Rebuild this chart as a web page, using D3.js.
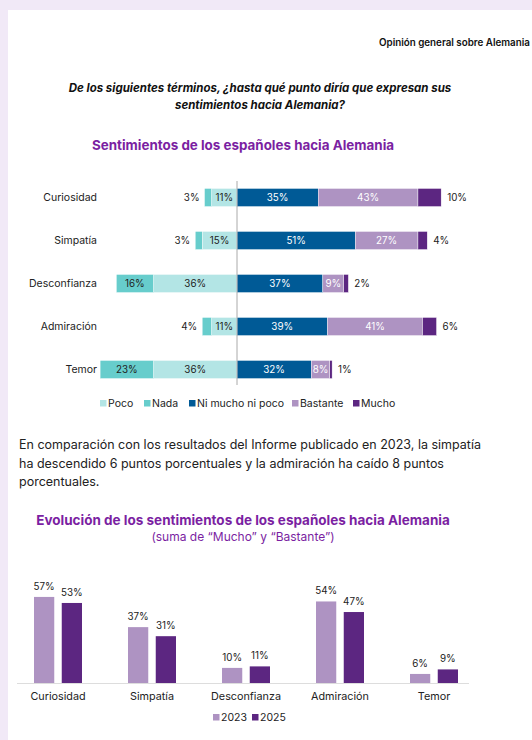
<!DOCTYPE html>
<html>
<head>
<meta charset="utf-8">
<script src="https://cdn.jsdelivr.net/npm/d3@7"></script>
<style>
  body { margin: 0; background: #f1e9f7; overflow: hidden; }
  svg { display: block; font-family: Inter, "Noto Sans", sans-serif; }
</style>
</head>
<body>
<svg id="chart" width="532" height="740"></svg>
<script>
// diverging chart data
const terms = ["Curiosidad", "Simpatía", "Desconfianza", "Admiración", "Temor"];
const nada = [3, 3, 16, 4, 23];
const poco = [11, 15, 36, 11, 36];
const niMucho = [35, 51, 37, 39, 32];
const bastante = [43, 27, 9, 41, 8];
const mucho = [10, 4, 2, 6, 1];

// evolution chart data
const years = ["2023", "2025"];
const evol2023 = [57, 37, 10, 54, 6];
const evol2025 = [53, 31, 11, 47, 9];

const colors = {
  poco: "#b3e5e5",
  nada: "#67cdcc",
  ni: "#005a96",
  bastante: "#ae93c2",
  mucho: "#5c2681"
};

const svg = d3.select("#chart");

// white page
svg.append("rect").attr("x", 8).attr("y", 10).attr("width", 524).attr("height", 730).attr("fill", "#fff");

// header
svg.append("text").attr("x", 379).attr("y", 46)
  .attr("font-size", 9.8).attr("font-weight", 600).attr("fill", "#111")
  .text("Opinión general sobre Alemania");

const q = svg.append("text").attr("text-anchor", "middle")
  .attr("font-size", 11.5).attr("font-weight", 700).attr("font-style", "italic").attr("fill", "#111");
q.append("tspan").attr("x", 260).attr("y", 92).text("De los siguientes términos, ¿hasta qué punto diría que expresan sus");
q.append("tspan").attr("x", 260).attr("y", 109).text("sentimientos hacia Alemania?");

svg.append("text").attr("x", 243).attr("y", 150).attr("text-anchor", "middle")
  .attr("font-size", 13.4).attr("font-weight", 700).attr("fill", "#7b1fa2")
  .text("Sentimientos de los españoles hacia Alemania");

// ---- diverging bars ----
const x0 = 237;
const xs = d3.scaleLinear().domain([0, 100]).range([0, 232]);
const ys = d3.scaleBand().domain(terms).range([176, 391]).paddingInner(0.58).paddingOuter(0.29);

const g1 = svg.append("g");

terms.forEach((t, i) => {
  const y = ys(t), h = ys.bandwidth(), cy = y + h / 2;
  const segs = [
    {key: "poco", v: poco[i], x: x0 - xs(poco[i])},
    {key: "nada", v: nada[i], x: x0 - xs(poco[i]) - xs(nada[i])},
    {key: "ni", v: niMucho[i], x: x0},
    {key: "bastante", v: bastante[i], x: x0 + xs(niMucho[i])},
    {key: "mucho", v: mucho[i], x: x0 + xs(niMucho[i]) + xs(bastante[i])}
  ];
  segs.forEach(s => {
    g1.append("rect").attr("x", s.x).attr("y", y).attr("width", xs(s.v)).attr("height", h)
      .attr("fill", colors[s.key]).attr("stroke", "#fff").attr("stroke-width", 0.4);
    const w = xs(s.v);
    let lx = s.x + w / 2, anchor = "middle";
    let fill = (s.key === "ni" || s.key === "bastante") ? "#fff" : "#222";
    if (s.key === "mucho") {
      lx = s.x + w + 6; anchor = "start"; fill = "#222";
    } else if (s.key === "nada" && w < 16) {
      lx = s.x - 5; anchor = "end";
    }
    g1.append("text").attr("x", lx).attr("y", cy).attr("dy", "0.35em")
      .attr("text-anchor", anchor).attr("font-size", 9.8).attr("fill", fill)
      .text(s.v + "%");
  });
  g1.append("text").attr("x", 97).attr("y", cy).attr("dy", "0.35em").attr("text-anchor", "end")
    .attr("font-size", 10.5).attr("fill", "#222").text(t);
});

g1.append("line").attr("x1", x0).attr("x2", x0).attr("y1", 181).attr("y2", 385)
  .attr("stroke", "#aaa").attr("stroke-width", 1);

const legend1 = [["Poco", "poco", 100], ["Nada", "nada", 144], ["Ni mucho ni poco", "ni", 189], ["Bastante", "bastante", 292], ["Mucho", "mucho", 353]];
legend1.forEach(([label, key, lx]) => {
  g1.append("rect").attr("x", lx).attr("y", 400).attr("width", 6.5).attr("height", 6.5).attr("fill", colors[key]);
  g1.append("text").attr("x", lx + 8).attr("y", 403.5).attr("dy", "0.35em")
    .attr("font-size", 10.5).attr("fill", "#222").text(label);
});

// ---- paragraph ----
const p = svg.append("text").attr("font-size", 12.5).attr("fill", "#222");
["En comparación con los resultados del Informe publicado en 2023, la simpatía",
 "ha descendido 6 puntos porcentuales y la admiración ha caído 8 puntos",
 "porcentuales."].forEach((line, i) => {
  p.append("tspan").attr("x", 19).attr("y", 449 + i * 18.5).text(line);
});

svg.append("text").attr("x", 243).attr("y", 525).attr("text-anchor", "middle")
  .attr("font-size", 13.5).attr("font-weight", 700).attr("fill", "#7b1fa2")
  .text("Evolución de los sentimientos de los españoles hacia Alemania");
svg.append("text").attr("x", 243).attr("y", 541).attr("text-anchor", "middle")
  .attr("font-size", 12).attr("fill", "#7b1fa2")
  .text("(suma de “Mucho” y “Bastante”)");

// ---- grouped bars ----
const baseY = 683;
const xb = d3.scaleBand().domain(terms).range([11, 481]);
const xg = d3.scaleBand().domain(years).range([0, 48]).paddingInner(0.27);
const yv = d3.scaleLinear().domain([0, 100]).range([baseY, baseY - 151]);

const g2 = svg.append("g");
const series = [evol2023, evol2025];
const yearColors = [colors.bastante, colors.mucho];

terms.forEach((t, i) => {
  const gx = xb(t) + xb.bandwidth() / 2 - 24;
  years.forEach((yr, j) => {
    const v = series[j][i];
    const bx = gx + xg(yr);
    g2.append("rect").attr("x", bx).attr("y", yv(v)).attr("width", xg.bandwidth())
      .attr("height", baseY - yv(v)).attr("fill", yearColors[j]);
    g2.append("text").attr("x", bx + xg.bandwidth() / 2).attr("y", yv(v) - 7)
      .attr("text-anchor", "middle").attr("font-size", 9.8).attr("fill", "#222")
      .text(v + "%");
  });
});

g2.append("line").attr("x1", 17).attr("x2", 469).attr("y1", baseY + 0.5).attr("y2", baseY + 0.5)
  .attr("stroke", "#ddd").attr("stroke-width", 1);

const xAxis = d3.axisBottom(xb).tickSize(0).tickPadding(9);
g2.append("g").attr("transform", `translate(0,${baseY})`).call(xAxis)
  .call(a => a.select(".domain").remove())
  .selectAll("text").attr("font-size", 10.8).attr("fill", "#222").attr("font-family", "Inter, 'Noto Sans', sans-serif");

[["2023", 0, 213], ["2025", 1, 252]].forEach(([label, j, lx]) => {
  g2.append("rect").attr("x", lx).attr("y", 714).attr("width", 6.5).attr("height", 6.5).attr("fill", yearColors[j]);
  g2.append("text").attr("x", lx + 8).attr("y", 717.5).attr("dy", "0.35em")
    .attr("font-size", 10.5).attr("fill", "#222").text(label);
});
</script>
</body>
</html>
